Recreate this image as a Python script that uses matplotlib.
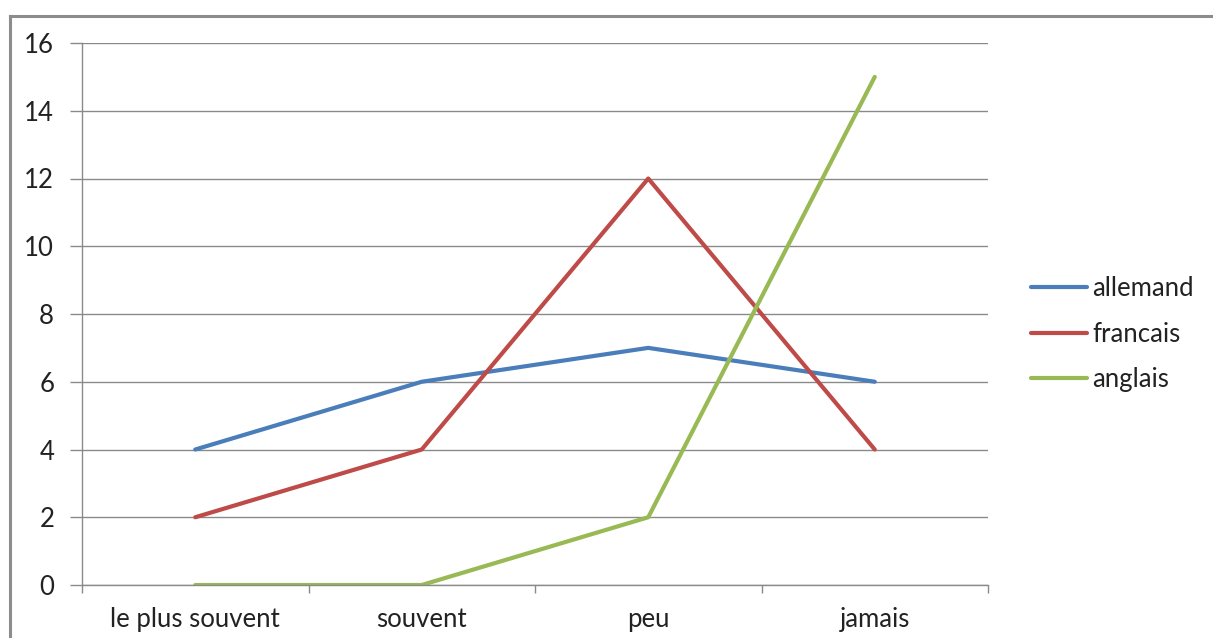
import numpy as np
import matplotlib.pyplot as plt
from matplotlib.lines import Line2D

categories = ["le plus souvent", "souvent", "peu", "jamais"]
allemand = [4, 6, 7, 6]
francais = [2, 4, 12, 4]
anglais = [0, 0, 2, 15]

plt.rcParams['font.family'] = ['Lato', 'DejaVu Sans']
fs = 18.5

fig = plt.figure(figsize=(12.13, 6.38), dpi=100)
ax = fig.add_axes([82 / 1213, 1 - 585 / 638, (988 - 82) / 1213, (585 - 43) / 638])

x = np.arange(len(categories))
ax.plot(x, allemand, color="#4A7EBB", lw=3.0, label="allemand", solid_capstyle="round")
ax.plot(x, francais, color="#BE4B48", lw=3.0, label="francais", solid_capstyle="round")
ax.plot(x, anglais, color="#98B954", lw=3.0, label="anglais", solid_capstyle="round")

ax.set_xlim(-0.5, len(categories) - 0.5)
ax.set_ylim(0, 16)
ax.set_yticks(np.arange(0, 17, 2))
ax.yaxis.grid(True, color="#8a8a8a", lw=1.0)
ax.set_axisbelow(True)

ax.set_xticks(x)
ax.set_xticklabels(categories)
ax.set_xticks(np.arange(-0.5, len(categories), 1), minor=True)
ax.tick_params(axis="x", which="major", length=0, pad=15.5, labelsize=fs, labelcolor="#222222")
ax.tick_params(axis="x", which="minor", length=6, color="#8a8a8a", width=1.0)
ax.tick_params(axis="y", length=9, color="#8a8a8a", width=1.0, pad=11, labelsize=fs, labelcolor="#222222")

for side in ["top", "right"]:
    ax.spines[side].set_visible(False)
for side in ["left", "bottom"]:
    ax.spines[side].set_color("#8a8a8a")
    ax.spines[side].set_linewidth(1.0)

ax.legend(loc="center left", bbox_to_anchor=(1018 / 1213, 1 - 334 / 638),
          bbox_transform=fig.transFigure, frameon=False, fontsize=fs,
          handlelength=2.2, handletextpad=0.2, labelspacing=0.8,
          borderpad=0, labelcolor="#222222")

# outer chart border, running off the right and bottom edges
fig.add_artist(Line2D([9.5 / 1213, 9.5 / 1213], [-0.05, 1 - 15.5 / 638],
                      transform=fig.transFigure, color="#8c8c8c", lw=2.2))
fig.add_artist(Line2D([9.5 / 1213, 1.05], [1 - 15.5 / 638, 1 - 15.5 / 638],
                      transform=fig.transFigure, color="#8c8c8c", lw=2.2))

fig.savefig("out.png", dpi=100)
